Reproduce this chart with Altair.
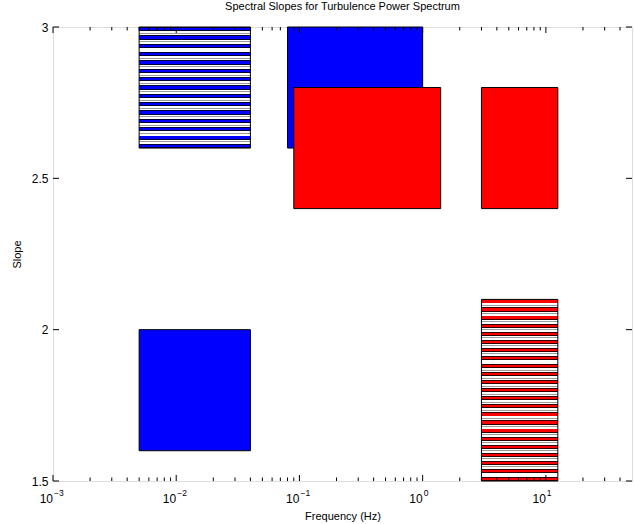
import altair as alt
import pandas as pd

# ---- data ----
box_names = ["A", "B", "C", "D", "E", "F"]
freq_lo = [0.005, 0.08, 0.09, 3.0, 0.005, 3.0]
freq_hi = [0.04, 1.0, 1.4, 12.5, 0.04, 12.5]
slope_lo = [2.6, 2.6, 2.4, 2.4, 1.6, 1.5]
slope_hi = [3.0, 3.0, 2.8, 2.8, 2.0, 2.1]
box_color = ["blue", "blue", "red", "red", "blue", "red"]
box_hatched = [True, False, False, False, False, True]

x_major = [0.001, 0.01, 0.1, 1, 10]
x_exponent = ["\u22123", "\u22122", "\u22121", "0", "1"]
x_minor = [m * d for d in [0.001, 0.01, 0.1, 1, 10] for m in range(2, 10) if m * d < 50]
y_ticks = [1.5, 2.0, 2.5, 3.0]

W, H = 579, 454
FONT = "Liberation Sans"

boxes = pd.DataFrame({
    "name": box_names, "x0": freq_lo, "x1": freq_hi,
    "y0": slope_lo, "y1": slope_hi,
    "color": box_color, "hatched": box_hatched,
})
solid = boxes[~boxes["hatched"]]
hatched_blue = boxes[boxes["hatched"] & (boxes["color"] == "blue")]
hatched_red = boxes[boxes["hatched"] & (boxes["color"] == "red")]

xscale = alt.Scale(type="log", domain=[0.001, 50], nice=False)
yscale = alt.Scale(domain=[1.5, 3], nice=False, zero=False)


def stripes(fill, edge, k):
    # horizontal stripes: k coloured bands separated by k-1 white gaps
    band = [(0.0, 0.9, edge), (0.9, 3.1, fill), (3.1, 4.0, edge)]
    gap = [(4.0, 5.6, "white"), (5.6, 6.5, "#9a9a9a"), (6.5, 8.0, "white")]
    total = k * 4.0 + (k - 1) * 4.0
    stops = []
    for i in range(k):
        base = i * 8.0
        segs = band + (gap if i < k - 1 else [])
        for s, e, c in segs:
            stops.append(alt.GradientStop(offset=(base + s) / total, color=c))
            stops.append(alt.GradientStop(offset=(base + e) / total, color=c))
    return alt.LinearGradient(gradient="linear", stops=stops, x1=0, x2=0, y1=0, y2=1)


x_enc = alt.X("x0:Q", scale=xscale,
              axis=alt.Axis(labels=False, ticks=False, domain=False, grid=False,
                            title="Frequency (Hz)", titleFontSize=11, titleFont=FONT,
                            titleFontWeight="normal", titlePadding=29, titleColor="black"))
y_enc = alt.Y("y0:Q", scale=yscale,
              axis=alt.Axis(values=y_ticks, ticks=False, domain=False, grid=False,
                            labelFontSize=12, labelFont=FONT, labelColor="black",
                            labelPadding=5, labelExpr="format(datum.value, '~g')",
                            title="Slope", titleFontSize=11, titleFont=FONT,
                            titleFontWeight="normal", titlePadding=9, titleColor="black"))

solid_layer = alt.Chart(solid).mark_rect(stroke="black", strokeWidth=1).encode(
    x=x_enc, x2="x1:Q", y=y_enc, y2="y1:Q",
    fill=alt.Fill("color:N", scale=None),
    order=alt.Order("name:N"),
)
hb_layer = alt.Chart(hatched_blue).mark_rect(
    fill=stripes("#0000ff", "#000030", 15), stroke="black", strokeWidth=1
).encode(x=alt.X("x0:Q", scale=xscale), x2="x1:Q",
         y=alt.Y("y0:Q", scale=yscale), y2="y1:Q")
hr_layer = alt.Chart(hatched_red).mark_rect(
    fill=stripes("#ff0000", "#300000", 23), stroke="black", strokeWidth=1
).encode(x=alt.X("x0:Q", scale=xscale), x2="x1:Q",
         y=alt.Y("y0:Q", scale=yscale), y2="y1:Q")

xt_major = pd.DataFrame({"v": x_major, "e": x_exponent})
xt_minor = pd.DataFrame({"v": x_minor})
yt = pd.DataFrame({"v": y_ticks})

def xticks(df, length):
    bottom = alt.Chart(df).mark_rule(color="black", strokeWidth=1).encode(
        x=alt.X("v:Q", scale=xscale), y=alt.value(H), y2=alt.value(H - length))
    top = alt.Chart(df).mark_rule(color="black", strokeWidth=1).encode(
        x=alt.X("v:Q", scale=xscale), y=alt.value(0), y2=alt.value(length))
    return bottom + top

ytick_left = alt.Chart(yt).mark_rule(color="black", strokeWidth=1).encode(
    y=alt.Y("v:Q", scale=yscale), x=alt.value(0), x2=alt.value(6))
ytick_right = alt.Chart(yt).mark_rule(color="black", strokeWidth=1).encode(
    y=alt.Y("v:Q", scale=yscale), x=alt.value(W - 6), x2=alt.value(W))

ten_lbl = alt.Chart(xt_major).mark_text(
    align="right", baseline="alphabetic", fontSize=12, font=FONT, color="black", dx=0
).encode(x=alt.X("v:Q", scale=xscale), y=alt.value(H + 22), text=alt.value("10"))
exp_lbl = alt.Chart(xt_major).mark_text(
    align="left", baseline="alphabetic", fontSize=8.5, font=FONT, color="black", dx=1
).encode(x=alt.X("v:Q", scale=xscale), y=alt.value(H + 15), text="e:N")

chart = alt.layer(
    solid_layer, hb_layer, hr_layer,
    xticks(xt_major, 6), xticks(xt_minor, 3.5),
    ytick_left, ytick_right, ten_lbl, exp_lbl,
).properties(
    width=W, height=H,
    title=alt.Title("Spectral Slopes for Turbulence Power Spectrum",
                    fontSize=11, font=FONT, fontWeight="normal", color="black",
                    anchor="middle", offset=9),
    autosize=alt.AutoSizeParams(type="none"),
    padding={"left": 53, "top": 27, "right": 3, "bottom": 43},
).configure_view(stroke="black", strokeWidth=1).configure(background="white")

chart.save("out.html", embed_options={"renderer": "svg", "actions": False})
